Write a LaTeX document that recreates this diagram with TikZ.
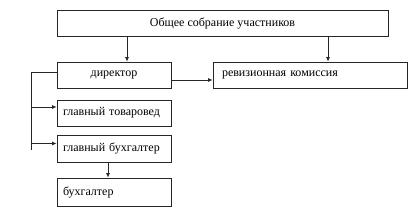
\documentclass[tikz,border=0pt]{standalone}
\usepackage{fontspec}
\setmainfont{Liberation Serif}
\usetikzlibrary{arrows.meta}

\begin{document}
\begin{tikzpicture}[x=1pt, y=-1pt,
    box/.style={draw=black!85, line width=0.8pt, minimum height=26pt, inner sep=0pt,
                font=\fontsize{12}{13}\selectfont},
    leftbox/.style={box, align=left, inner xsep=6pt},
    arr/.style={-{Latex[length=4.5pt,width=4pt]}, line width=0.8pt, draw=black!85},
    bus/.style={line width=0.8pt, draw=black!85}]
    \useasboundingbox (0,0) rectangle (420,214);

    % Общее собрание
    \node[box, minimum width=331pt] (meeting) at (222.5,23) {Общее собрание участников};

    % директор и ревизионная комиссия
    \node[box, minimum width=114pt] (dir) at (114,75) {директор};
    \node[leftbox, minimum width=194pt, text width=176pt] (audit) at (310,75) {ревизионная комиссия};

    % подчинённые директору
    \node[leftbox, minimum width=114pt, text width=102pt] (goods) at (114,113) {главный товаровед};
    \node[leftbox, minimum width=114pt, text width=102pt, minimum height=27pt] (chief) at (114,148.5) {главный бухгалтер};
    \node[leftbox, minimum width=114pt, text width=102pt, minimum height=28pt] (acc) at (114,192) {бухгалтер};

    % стрелки от собрания
    \draw[arr] (meeting.south -| dir.north) ++(13pt,0) coordinate (m1) -- (m1 |- dir.north);
    \draw[arr] (328,36) coordinate (m2) -- (m2 |- audit.north);

    % директор -> ревизионная комиссия
    \coordinate (dirout) at ([yshift=-5pt]dir.east);
    \draw[arr] (dirout) -- (dirout -| audit.west);

    % левая шина
    \coordinate (dirleft) at ([yshift=3pt]dir.west);
    \coordinate (bustop) at (31,72);
    \coordinate (busend) at (31,150);
    \draw[bus] (dirleft) -- (bustop) -- (busend);
    \coordinate (goodsin) at ([yshift=6pt]goods.west);
    \coordinate (chiefin) at ([yshift=5pt]chief.west);
    \draw[arr] (bustop |- goodsin) -- (goodsin);
    \draw[arr] (bustop |- chiefin) -- (chiefin);

    % главный бухгалтер -> бухгалтер
    \draw[arr] (108,162) coordinate (c1) -- (c1 |- acc.north);
\end{tikzpicture}
\end{document}
